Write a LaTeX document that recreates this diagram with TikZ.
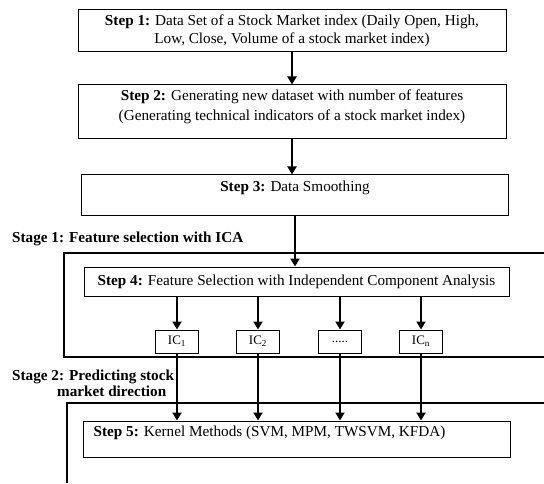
\documentclass[tikz,border=0pt]{standalone}
\usepackage{fontspec}
\setmainfont{Liberation Serif}
\usetikzlibrary{arrows.meta}
\begin{document}
\begin{tikzpicture}[x=1pt,y=1pt,
  box/.style={draw,line width=1pt,inner sep=0pt},
  txt/.style={font=\fontsize{15.2}{20}\selectfont,align=center,inner sep=0pt},
  stagelbl/.style={font=\fontsize{15.2}{16}\selectfont\bfseries,inner sep=0pt,anchor=west},
  icbox/.style={box,minimum width=43,minimum height=23,font=\fontsize{13}{15}\selectfont},
  frame/.style={line width=2pt},
  arr/.style={line width=2pt,-{Triangle[width=9pt,length=8pt]}}]
\useasboundingbox (0,0) rectangle (544,483);
% Step 1
\node[box,minimum width=428,minimum height=42] (s1) at (292,452) {};
\node[txt,font=\fontsize{15.2}{18}\selectfont] (t1) at (s1.center) {\textbf{Step 1:} Data Set of a Stock Market index (Daily Open, High,\\Low, Close, Volume of a stock market index)};
% Step 2
\node[box,minimum width=428,minimum height=54] (s2) at (292,371) {};
\node[txt,anchor=north] (t2) at ([yshift=-5]s2.north) {\textbf{Step 2:} Generating new dataset with number of features\\(Generating technical indicators of a stock market index)};
% Step 3
\node[box,minimum width=427,minimum height=40] (s3) at (295,288) {};
\node[txt,anchor=north] (t3) at ([yshift=-6]s3.north) {\textbf{Step 3:} Data Smoothing};
% Stage 1 frame
\node[stagelbl] (st1) at (12,244) {Stage 1: Feature selection with ICA};
\coordinate (f1a) at (544,230);
\coordinate (f1b) at (64,230);
\coordinate (f1c) at (64,126);
\coordinate (f1d) at (544,126);
\draw[frame] (f1a) -- (f1b) -- (f1c) -- (f1d);
% Step 4
\node[box,minimum width=425,minimum height=29] (s4) at (296.5,201.5) {};
\node[txt] (t4) at (s4.center) {\textbf{Step 4:} Feature Selection with Independent Component Analysis};
% IC boxes
\node[icbox] (ic1) at (177,141.5) {IC\textsubscript{1}};
\node[icbox] (ic2) at (258,141.5) {IC\textsubscript{2}};
\node[icbox] (ic3) at (340,141.5) {.....};
\node[icbox] (ic4) at (421,141.5) {IC\textsubscript{n}};
% Stage 2 frame
\node[stagelbl,align=left] (st2) at (12,100) {Stage 2: Predicting stock\\\hspace{45pt}market direction};
\coordinate (f2a) at (544,80);
\coordinate (f2b) at (67,80);
\coordinate (f2c) at (67,0);
\draw[frame] (f2a) -- (f2b) -- (f2c);
% Step 5
\node[box,minimum width=427,minimum height=36] (s5) at (296.5,44) {};
\node[txt,anchor=north west] (t5) at ([xshift=11,yshift=-5]s5.north west) {\textbf{Step 5:} Kernel Methods (SVM, MPM, TWSVM, KFDA)};
% arrows
\draw[arr] (s1.south) -- (s2.north);
\draw[arr] (s2.south) -- (s2.south |- s3.north);
\draw[arr] (s3.south) -- (s3.south |- s4.north);
\foreach \i in {ic1,ic2,ic3,ic4}{
  \draw[arr] (s4.south -| \i) -- (\i.north);
  \draw[arr] (\i.south) -- (\i.south |- s5.north);
}
\end{tikzpicture}
\end{document}
